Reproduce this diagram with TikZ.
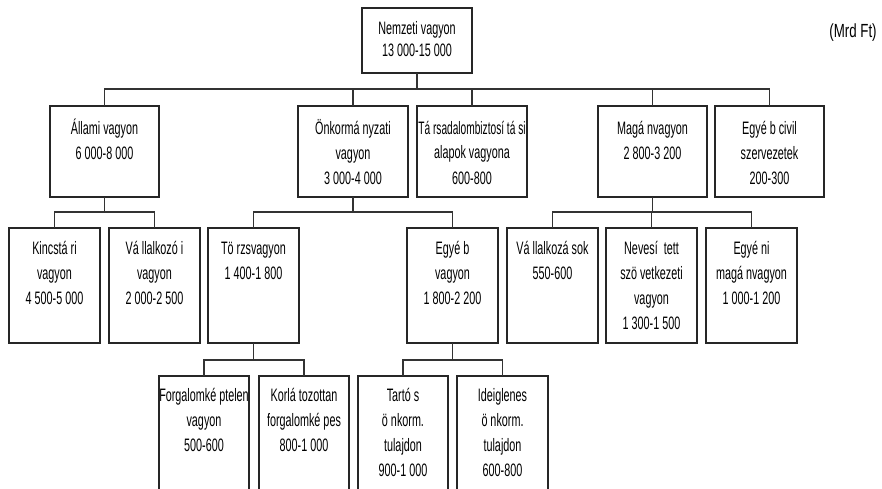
\documentclass[tikz,border=0pt]{standalone}
\usepackage{fontspec}
\setmainfont{Liberation Sans}[FakeStretch=0.6]
\newfontfamily\unitfont{Liberation Sans}[FakeStretch=0.7]
\begin{document}
\begin{tikzpicture}[x=1pt,y=-1pt,
  box/.style={draw=black!85, line width=1.4pt, inner sep=0pt, outer sep=0pt, anchor=north west, rectangle},
  conn/.style={draw=black!80, line width=1.2pt}]
\useasboundingbox (0,0) rectangle (882,489);
\clip (0,0) rectangle (882,489);
\newcommand{\bx}[4]{\parbox[c][#2pt][t]{#1pt}{\centering\fontsize{18}{25}\selectfont\rule{0pt}{#3pt}#4\par}}
% level 0
\node[box] (nem) at (362,8) {\parbox[c][65pt][t]{110pt}{\centering\fontsize{18}{22}\selectfont\rule{0pt}{27pt}Nemzeti vagyon\\13 000-15 000\par}};
% level 1
\node[box] (all) at (50,106) {\bx{109}{91}{28}{Állami vagyon\\6 000-8 000}};
\node[box] (onk) at (298,106) {\bx{110}{91}{28}{Önkormá nyzati\\vagyon\\3 000-4 000}};
\node[box] (tars) at (417,106) {\bx{110}{91}{28}{\makebox[0pt]{\scalebox{0.94}[1]{Tá rsadalombiztosí tá si}}\\alapok vagyona\\600-800}};
\node[box] (mag) at (598,106) {\bx{109}{91}{28}{Magá nvagyon\\2 800-3 200}};
\node[box] (civ) at (715,106) {\bx{109}{91}{28}{Egyé b civil\\szervezetek\\200-300}};
% level 2
\node[box] (kin) at (9,228) {\bx{91}{115}{26}{Kincstá ri\\vagyon\\4 500-5 000}};
\node[box] (val) at (109,228) {\bx{91}{115}{26}{Vá llalkozó i\\vagyon\\2 000-2 500}};
\node[box] (tor) at (208,228) {\bx{91}{115}{26}{Tö rzsvagyon\\1 400-1 800}};
\node[box] (egy) at (407,228) {\bx{91}{115}{26}{Egyé b\\vagyon\\1 800-2 200}};
\node[box] (vsk) at (507,228) {\bx{91}{115}{26}{Vá llalkozá sok\\550-600}};
\node[box] (nev) at (606,228) {\bx{91}{115}{26}{Nevesí\ \ tett\\szö vetkezeti\\vagyon\\1 300-1 500}};
\node[box] (egn) at (706,228) {\bx{91}{115}{26}{Egyé ni\\magá nvagyon\\1 000-1 200}};
% level 3
\node[box] (for) at (159,376) {\bx{90}{135}{25}{\makebox[0pt]{Forgalomké ptelen}\\vagyon\\500-600}};
\node[box] (kor) at (259,376) {\bx{90}{135}{25}{Korlá tozottan\\forgalomké pes\\800-1 000}};
\node[box] (tar) at (358,376) {\bx{90}{135}{25}{Tartó s\\ö nkorm.\\tulajdon\\900-1 000}};
\node[box] (ide) at (457,376) {\bx{91}{135}{25}{Ideiglenes\\ö nkorm.\\tulajdon\\600-800}};
% unit label
\node[anchor=center, inner sep=0pt] (unit) at (853,33) {\unitfont\fontsize{19}{22}\selectfont (Mrd Ft)};
% bus levels
\coordinate (b0) at (0,89);
\coordinate (b1) at (0,212);
\coordinate (b2) at (0,360);
% connectors level 0 -> 1
\draw[conn] (nem.south) -- (nem.south |- b0);
\foreach \c in {all,onk,tars,mag,civ} \draw[conn] (\c.north) |- (nem.south |- b0);
% Allami
\draw[conn] (all.south) -- (all.south |- b1);
\foreach \c in {kin,val} \draw[conn] (\c.north) |- (all.south |- b1);
% Onkormanyzati
\draw[conn] (onk.south) -- (onk.south |- b1);
\foreach \c in {tor,egy} \draw[conn] (\c.north) |- (onk.south |- b1);
% Maganvagyon
\draw[conn] (mag.south) -- (mag.south |- b1);
\foreach \c in {vsk,nev,egn} \draw[conn] (\c.north) |- (mag.south |- b1);
% Torzsvagyon
\draw[conn] (tor.south) -- (tor.south |- b2);
\foreach \c in {for,kor} \draw[conn] (\c.north) |- (tor.south |- b2);
% Egyeb vagyon
\draw[conn] (egy.south) -- (egy.south |- b2);
\foreach \c in {tar,ide} \draw[conn] (\c.north) |- (egy.south |- b2);
\end{tikzpicture}
\end{document}
